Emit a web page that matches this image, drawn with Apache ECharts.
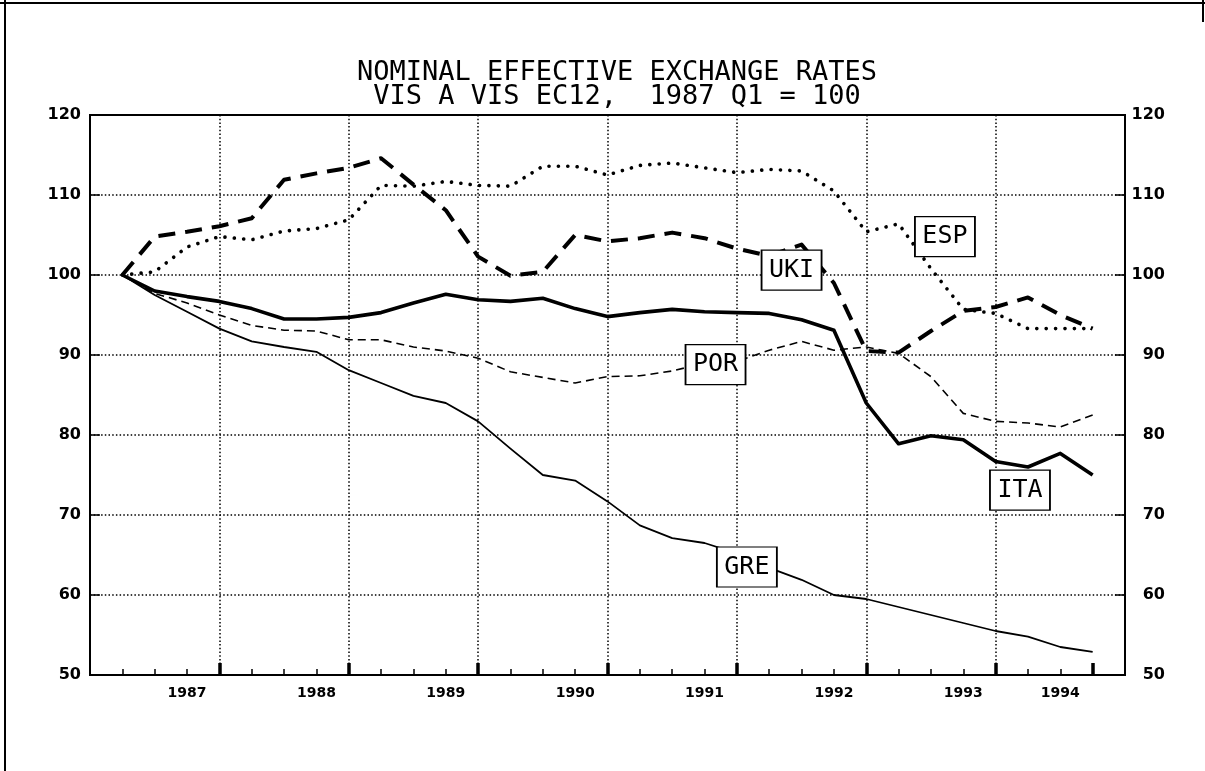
<!DOCTYPE html>
<html>
<head>
<meta charset="utf-8">
<title>Nominal effective exchange rates</title>
<script src="https://cdn.jsdelivr.net/npm/echarts@6/dist/echarts.min.js"></script>
<style>
  html, body { margin: 0; padding: 0; background: #fff; }
  #chart { width: 1205px; height: 771px; }
</style>
</head>
<body>
<div id="chart"></div>
<script>
// quarters 1987Q1 .. 1994Q3, index 1987Q1 = 100
const quarters = []
for (let y = 1987; y <= 1994; y++) {
  for (let q = 1; q <= 4; q++) {
    if (y === 1994 && q === 4) break
    quarters.push(y + 'Q' + q)
  }
}

const ita = [100, 98.0, 97.3, 96.7, 95.8, 94.5, 94.5, 94.7, 95.3, 96.5, 97.6, 96.9, 96.7, 97.1, 95.8, 94.8,
  95.3, 95.7, 95.4, 95.3, 95.2, 94.4, 93.1, 84.0, 78.9, 79.9, 79.4, 76.7, 76.0, 77.7, 75.0]
const gre = [100, 97.5, 95.4, 93.3, 91.7, 91.0, 90.4, 88.1, 86.5, 84.9, 84.0, 81.7, 78.3, 75.0, 74.3, 71.7,
  68.7, 67.1, 66.5, 65.2, 63.4, 61.9, 60.0, 59.5, 58.5, 57.5, 56.5, 55.5, 54.8, 53.5, 52.9]
const uki = [100, 104.8, 105.4, 106.1, 107.1, 111.9, 112.7, 113.4, 114.6, 111.3, 108.1, 102.3, 99.9, 100.4, 105.0, 104.2,
  104.6, 105.3, 104.6, 103.3, 102.4, 103.8, 99.0, 90.5, 90.3, 93.0, 95.5, 96.0, 97.2, 95.0, 93.3]
const esp = [100, 100.4, 103.5, 104.8, 104.4, 105.5, 105.8, 106.9, 111.2, 111.1, 111.7, 111.2, 111.1, 113.6, 113.6, 112.5,
  113.7, 114.0, 113.4, 112.8, 113.2, 113.0, 110.5, 105.4, 106.4, 100.8, 95.7, 95.2, 93.3, 93.3, 93.3]
const por = [100, 97.7, 96.5, 95.0, 93.7, 93.1, 93.0, 91.9, 91.9, 91.0, 90.5, 89.6, 87.9, 87.2, 86.5, 87.3,
  87.4, 88.0, 89.0, 89.2, 90.6, 91.7, 90.6, 91.0, 90.2, 87.3, 82.7, 81.7, 81.5, 81.0, 82.5]

// one empty slot either side, the frame sits a quarter away from the data
const cats = [''].concat(quarters, [''])
const pad = (arr) => [null].concat(arr, [null])

// boxed series names: [category, value, x shift in px]
const tags = {
  UKI: ['1992Q2', 100.6, -10],
  POR: ['1991Q3', 88.8, 11],
  ESP: ['1993Q2', 104.8, 14],
  ITA: ['1994Q1', 73.1, -8],
  GRE: ['1991Q4', 63.5, 10]
}

const yearLabelAt = [3, 7, 11, 15, 19, 23, 27, 30]
const majorAt = [4, 8, 12, 16, 20, 24, 28]

const chart = echarts.init(document.getElementById('chart'))

function tag(name) {
  const t = tags[name]
  return {
    silent: true,
    z: 20,
    symbol: 'rect',
    symbolSize: [60, 40],
    symbolOffset: [t[2], 0],
    itemStyle: { color: '#fff', borderColor: '#000', borderWidth: 1.5 },
    label: {
      show: true,
      position: 'inside',
      formatter: name,
      color: '#000',
      fontFamily: 'DejaVu Sans Mono',
      fontSize: 25
    },
    data: [{ coord: [t[0], t[1]] }]
  }
}

function line(name, data, style) {
  return {
    name: name,
    type: 'line',
    data: pad(data),
    showSymbol: false,
    symbol: 'none',
    connectNulls: false,
    lineStyle: Object.assign({ color: '#000', join: 'round' }, style),
    markPoint: tag(name),
    z: 3
  }
}

const option = {
  animation: false,
  backgroundColor: '#fff',
  title: {
    text: 'NOMINAL EFFECTIVE EXCHANGE RATES\nVIS A VIS EC12,  1987 Q1 = 100',
    left: 612,
    textAlign: 'center',
    top: 56,
    textStyle: {
      fontFamily: 'DejaVu Sans Mono',
      fontWeight: 'normal',
      fontSize: 27,
      lineHeight: 24,
      color: '#000'
    }
  },
  grid: {
    left: 90,
    right: 80,
    top: 115,
    bottom: 96,
    show: true,
    borderColor: '#000',
    borderWidth: 2,
    containLabel: false
  },
  xAxis: [
    {
      type: 'category',
      data: cats,
      boundaryGap: false,
      axisLine: { lineStyle: { color: '#000', width: 2 } },
      axisTick: {
        inside: true,
        length: 6,
        interval: (i) => i > 0 && i < cats.length - 1,
        lineStyle: { color: '#000', width: 1.5 }
      },
      axisLabel: {
        interval: (i) => yearLabelAt.indexOf(i) >= 0,
        formatter: (v) => v.slice(0, 4),
        margin: 11,
        color: '#000',
        fontFamily: 'DejaVu Sans',
        fontWeight: 'bold',
        fontSize: 14
      },
      splitLine: {
        show: true,
        interval: (i) => majorAt.indexOf(i) >= 0,
        lineStyle: { color: '#000', width: 1.5, type: [1.5, 2.2] }
      }
    },
    {
      type: 'category',
      data: cats,
      boundaryGap: false,
      position: 'bottom',
      axisLine: { show: false },
      axisTick: {
        inside: true,
        length: 12,
        interval: (i) => majorAt.indexOf(i) >= 0 || i === cats.length - 2,
        lineStyle: { color: '#000', width: 3.5 }
      },
      axisLabel: { show: false },
      splitLine: { show: false }
    }
  ],
  yAxis: [
    {
      type: 'value',
      min: 50,
      max: 120,
      interval: 10,
      position: 'left',
      axisLine: { show: true, lineStyle: { color: '#000', width: 2 } },
      axisTick: { show: true, inside: true, length: 10, lineStyle: { color: '#000', width: 1.5 } },
      axisLabel: {
        margin: 9,
        color: '#000',
        fontFamily: 'DejaVu Sans',
        fontWeight: 'bold',
        fontSize: 16
      },
      splitLine: {
        show: true,
        lineStyle: { color: '#000', width: 1.5, type: [1.5, 2.2] }
      }
    },
    {
      type: 'value',
      min: 50,
      max: 120,
      interval: 10,
      position: 'right',
      axisLine: { show: true, lineStyle: { color: '#000', width: 2 } },
      axisTick: { show: true, inside: true, length: 10, lineStyle: { color: '#000', width: 1.5 } },
      axisLabel: {
        margin: 40,
        align: 'right',
        color: '#000',
        fontFamily: 'DejaVu Sans',
        fontWeight: 'bold',
        fontSize: 16
      },
      splitLine: { show: false }
    }
  ],
  series: [
    line('GRE', gre, { width: 1.8 }),
    line('POR', por, { width: 1.6, type: [8, 5] }),
    line('ITA', ita, { width: 3.6 }),
    line('ESP', esp, { width: 3.6, type: [0.1, 9.3], cap: 'round' }),
    line('UKI', uki, { width: 4, type: [17, 10] })
  ],
  graphic: [
    { type: 'line', shape: { x1: 0, y1: 3, x2: 1205, y2: 3 }, style: { stroke: '#000', lineWidth: 2 } },
    { type: 'line', shape: { x1: 5, y1: 0, x2: 5, y2: 771 }, style: { stroke: '#000', lineWidth: 2 } },
    { type: 'line', shape: { x1: 1203, y1: 0, x2: 1203, y2: 22 }, style: { stroke: '#000', lineWidth: 2 } }
  ]
}

chart.setOption(option)
</script>
</body>
</html>
